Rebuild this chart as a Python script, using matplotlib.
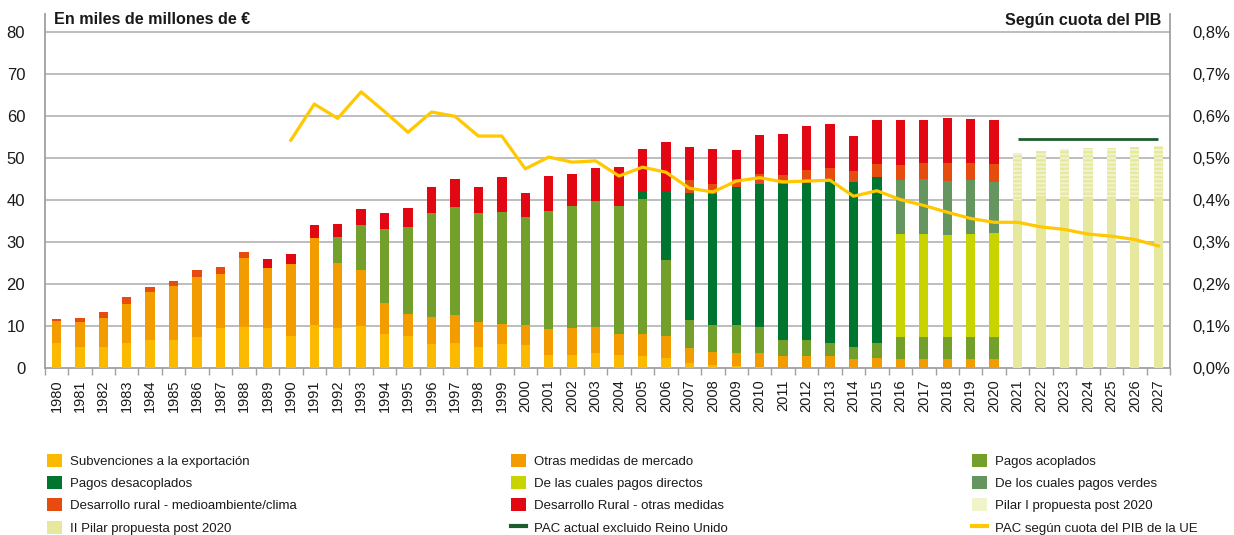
import matplotlib
matplotlib.use("Agg")
import matplotlib.pyplot as plt
from matplotlib.patches import Patch
from matplotlib.lines import Line2D
import numpy as np

plt.rcParams['font.family'] = ['Liberation Sans', 'DejaVu Sans']
plt.rcParams['hatch.linewidth'] = 1.5

years = [str(y) for y in range(1980, 2028)]

# segment heights, miles de millones de EUR (1980..2027)
subv_export = [5.9, 5.1, 5.1, 5.9, 6.7, 6.7, 7.4, 9.6, 9.8, 9.6,
               7.7, 10.3, 9.6, 10.1, 8.2, 7.7, 5.8, 6.0, 5.1, 5.8,
               5.5, 3.2, 3.2, 3.6, 3.2, 2.9, 2.5, 1.3, 0.8, 0.55,
               0.3, 0, 0, 0, 0, 0, 0, 0, 0, 0,
               0, 0, 0, 0, 0, 0, 0, 0]
otras_mercado = [5.3, 5.9, 6.9, 9.4, 11.4, 12.9, 14.3, 12.8, 16.4, 14.2,
                 17.1, 20.7, 15.4, 13.3, 7.3, 5.2, 6.4, 6.7, 5.9, 4.7,
                 4.8, 6.1, 6.4, 6.2, 5.0, 5.3, 5.2, 3.5, 3.1, 3.05,
                 3.3, 2.9, 2.9, 2.9, 2.2, 2.5, 2.2, 2.2, 2.2, 2.2,
                 2.2, 0, 0, 0, 0, 0, 0, 0]
pagos_acoplados = [0, 0, 0, 0, 0, 0, 0, 0, 0, 0,
                   0, 0, 6.2, 10.6, 17.6, 20.7, 24.7, 25.6, 25.9, 26.6,
                   25.6, 28.1, 29.0, 29.9, 30.4, 32.0, 18.0, 6.7, 6.4, 6.7,
                   6.2, 3.8, 3.8, 3.1, 2.9, 3.5, 5.2, 5.2, 5.2, 5.2,
                   5.2, 0, 0, 0, 0, 0, 0, 0]
pagos_desacoplados = [0, 0, 0, 0, 0, 0, 0, 0, 0, 0,
                      0, 0, 0, 0, 0, 0, 0, 0, 0, 0,
                      0, 0, 0, 0, 0, 1.8, 16.3, 30.1, 31.1, 32.8,
                      34.0, 37.1, 37.3, 38.7, 39.2, 39.4, 0, 0, 0, 0,
                      0, 0, 0, 0, 0, 0, 0, 0]
pagos_directos = [0] * 36 + [24.5, 24.5, 24.3, 24.5, 24.7] + [0] * 7
pagos_verdes = [0] * 36 + [12.8, 13.1, 12.8, 12.8, 12.2] + [0] * 7
dr_medioambiente = [0.5, 1.0, 1.4, 1.6, 1.2, 1.1, 1.7, 1.7, 1.4, 0,
                    0, 0, 0, 0, 0, 0, 0, 0, 0, 0,
                    0, 0, 0, 0, 0, 0, 0, 3.1, 2.4, 1.9,
                    2.4, 2.1, 3.1, 2.9, 2.6, 3.1, 3.6, 3.8, 4.3, 4.1,
                    4.2, 0, 0, 0, 0, 0, 0, 0]
dr_otras = [0, 0, 0, 0, 0, 0, 0, 0, 0, 2.2,
            2.4, 3.0, 3.1, 3.8, 3.8, 4.5, 6.2, 6.6, 6.2, 8.3,
            5.7, 8.3, 7.6, 7.9, 9.2, 10.1, 11.8, 7.9, 8.3, 6.9,
            9.2, 9.8, 10.5, 10.4, 8.3, 10.5, 10.7, 10.2, 10.7, 10.4,
            10.5, 0, 0, 0, 0, 0, 0, 0]
propuesta_base = [0] * 41 + [40.1, 40.9, 40.4, 40.4, 40.4, 40.4, 40.4]
propuesta_sup = [0] * 41 + [11.0, 10.7, 11.7, 11.9, 11.9, 12.2, 12.4]

pac_actual_years = ["2021", "2027"]
pac_actual_value = [54.5, 54.5]

cuota_years = [str(y) for y in range(1990, 2028)]
cuota_pib = [0.542, 0.628, 0.594, 0.657, 0.610, 0.561, 0.609, 0.599, 0.552, 0.552,
             0.474, 0.502, 0.490, 0.493, 0.457, 0.478, 0.466, 0.428, 0.419, 0.445,
             0.453, 0.443, 0.445, 0.447, 0.409, 0.422, 0.401, 0.387, 0.371, 0.356,
             0.347, 0.347, 0.336, 0.330, 0.319, 0.314, 0.306, 0.291]

C_SUBV = '#FBBA00'
C_OTRAS = '#F39C00'
C_ACOPL = '#72A02A'
C_DESAC = '#00752F'
C_DIREC = '#C8D400'
C_VERDE = '#65965F'
C_DRMED = '#E64C0F'
C_DROTR = '#E30613'
C_PIL2 = '#E6E99D'
C_PIL1 = '#F1F3CB'
C_LINE = '#FFC800'
C_PAC = '#1B5E2B'
GRID = '#ABABAB'

fig = plt.figure(figsize=(12.34, 5.35), dpi=100)
ax = fig.add_axes([0.0362, 0.3116, 0.9119, 0.6622])

x = np.arange(len(years))
w = 0.4
bottom = np.zeros(len(years))
series = [(subv_export, C_SUBV), (otras_mercado, C_OTRAS), (pagos_acoplados, C_ACOPL),
          (pagos_desacoplados, C_DESAC), (pagos_directos, C_DIREC), (pagos_verdes, C_VERDE),
          (dr_medioambiente, C_DRMED), (dr_otras, C_DROTR)]
for vals, col in series:
    v = np.array(vals, dtype=float)
    ax.bar(x, v, w, bottom=bottom, color=col, linewidth=0, zorder=3)
    bottom += v
pb = np.array(propuesta_base, dtype=float)
ps = np.array(propuesta_sup, dtype=float)
ax.bar(x, pb, w, bottom=bottom, color=C_PIL2, linewidth=0, zorder=3)
ax.bar(x, ps, w, bottom=bottom + pb, facecolor=C_PIL1, edgecolor=C_PIL2,
       hatch='----', linewidth=0, zorder=3)

xi = [years.index(y) for y in pac_actual_years]
ax.plot(xi, pac_actual_value, color=C_PAC, lw=2.0, zorder=5, solid_capstyle='butt')

ax.set_xlim(-0.5, len(years) - 0.5)
ax.set_ylim(0, 84.2)
ax.set_yticks(range(0, 81, 10))
ax.tick_params(axis='y', length=0, pad=14, labelsize=12, labelcolor='#1a1a1a')
for v in range(10, 81, 10):
    ax.axhline(v, color=GRID, lw=1.1, zorder=1)

ax.set_xticks(x)
ax.set_xticklabels(years, rotation=90, fontsize=10.5, color='#1a1a1a')
ax.tick_params(axis='x', which='major', length=0, pad=8)
ax.set_xticks(np.arange(-0.5, len(years), 1.0), minor=True)
ax.tick_params(axis='x', which='minor', length=5, width=1.0, color='#A0A0A0')

for s in ['top', 'right']:
    ax.spines[s].set_visible(False)
for s in ['left', 'bottom']:
    ax.spines[s].set_color('#A0A0A0')
    ax.spines[s].set_linewidth(1.3)

ax2 = ax.twinx()
ax2.set_ylim(0, 0.842)
ax2.set_yticks([i / 10 for i in range(9)])
ax2.set_yticklabels([f"{i/10:.1f}".replace('.', ',') + '%' for i in range(9)])
ax2.tick_params(axis='y', length=0, pad=16, labelsize=12, labelcolor='#1a1a1a')
for s in ['top', 'left', 'bottom']:
    ax2.spines[s].set_visible(False)
ax2.spines['right'].set_color('#A0A0A0')
ax2.spines['right'].set_linewidth(1.3)
xc = [years.index(y) for y in cuota_years]
ax2.plot(xc, cuota_pib, color=C_LINE, lw=2.3, zorder=6)

fig.text(54 / 1234, 1 - 20 / 535, 'En miles de millones de €', fontsize=11.6,
         fontweight='bold', ha='left', va='center', color='#1a1a1a')
fig.text(1161 / 1234, 1 - 20 / 535, 'Según cuota del PIB', fontsize=11.6,
         fontweight='bold', ha='right', va='center', color='#1a1a1a')

def ph(c):
    return Patch(facecolor=c, edgecolor='none')

def lh(c):
    return Line2D([0], [0], color=c, lw=3)

cols = [
    [(ph(C_SUBV), 'Subvenciones a la exportación'), (ph(C_DESAC), 'Pagos desacoplados'),
     (ph(C_DRMED), 'Desarrollo rural - medioambiente/clima'), (ph(C_PIL2), 'II Pilar propuesta post 2020')],
    [(ph(C_OTRAS), 'Otras medidas de mercado'), (ph(C_DIREC), 'De las cuales pagos directos'),
     (ph(C_DROTR), 'Desarrollo Rural - otras medidas'), (lh(C_PAC), 'PAC actual excluido Reino Unido')],
    [(ph(C_ACOPL), 'Pagos acoplados'), (ph(C_VERDE), 'De los cuales pagos verdes'),
     (ph(C_PIL1), 'Pilar I propuesta post 2020'), (lh(C_LINE), 'PAC según cuota del PIB de la UE')],
]
xs = [47 / 1234, 511 / 1234, 972 / 1234]
for cx, items in zip(xs, cols):
    leg = fig.legend([h for h, _ in items], [l for _, l in items], loc='upper left',
                     bbox_to_anchor=(cx, 1 - 454 / 535), frameon=False, fontsize=9.5,
                     handlelength=1.15, handleheight=1.15, handletextpad=0.62,
                     labelspacing=0.62, borderpad=0, borderaxespad=0)
    for t in leg.get_texts():
        t.set_color('#1a1a1a')

fig.savefig('out.png', dpi=100)
